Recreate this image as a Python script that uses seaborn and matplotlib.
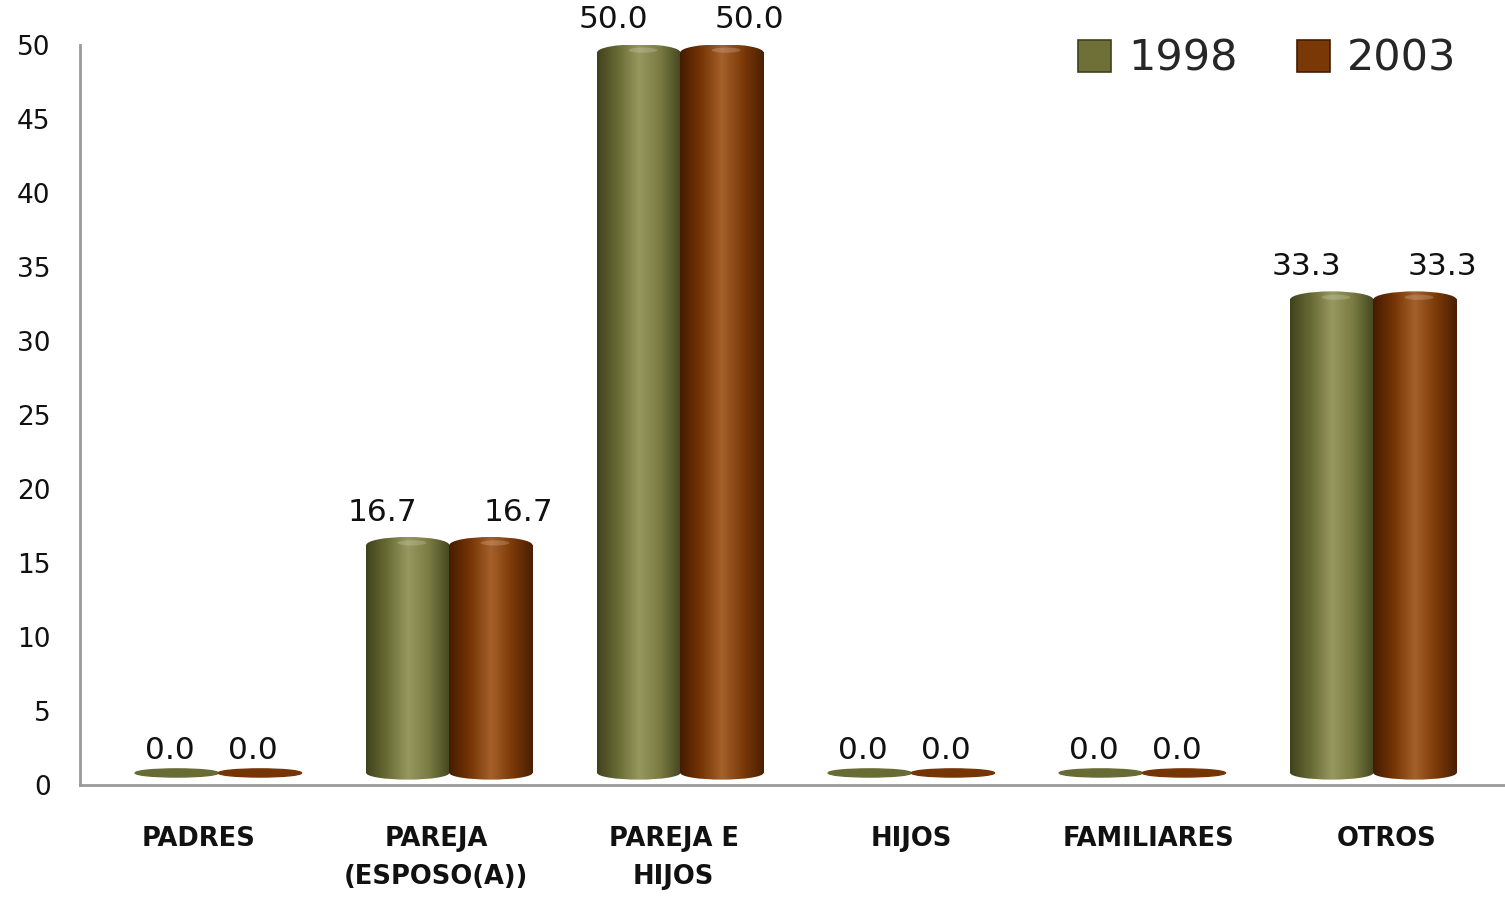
import numpy as np
import pandas as pd
import matplotlib
matplotlib.use("Agg")
import matplotlib.pyplot as plt
import seaborn as sns
from matplotlib.patches import Ellipse, Rectangle
from matplotlib.colors import LinearSegmentedColormap

categories = ["PADRES", "PAREJA\n(ESPOSO(A))", "PAREJA E\nHIJOS", "HIJOS", "FAMILIARES", "OTROS"]
years = ["1998", "2003"]
values_1998 = [0.0, 16.7, 50.0, 0.0, 0.0, 33.3]
values_2003 = [0.0, 16.7, 50.0, 0.0, 0.0, 33.3]
yticks = list(range(0, 55, 5))

df = pd.DataFrame({
    "cat": categories * 2,
    "year": [years[0]] * len(categories) + [years[1]] * len(categories),
    "val": values_1998 + values_2003,
})

sns.set_theme(style="white")
plt.rcParams['font.family'] = ['DejaVu Sans']

colors = {"1998": "#6e7038", "2003": "#7a3806"}
grads = {
    "1998": ["#40421c", "#696b35", "#979860", "#7a7c43", "#45471f"],
    "2003": ["#451c02", "#763505", "#a5602a", "#7c3a08", "#4a1f03"],
}

fig = plt.figure(figsize=(15.05, 9), dpi=100)
ax = fig.add_axes([0.053, 0.128, 0.947, 0.822])
sns.barplot(data=df, x="cat", y="val", hue="year", palette=colors,
            width=0.72, ax=ax, saturation=1, legend=True)

ax.set_ylim(0, 50)
ax.set_yticks(yticks)
ax.set_xlabel("")
ax.set_ylabel("")
ax.tick_params(axis="y", labelsize=19, length=0, pad=21, labelcolor="#111111")
ax.tick_params(axis="x", length=0, labelbottom=False)
for s in ["top", "right"]:
    ax.spines[s].set_visible(False)
for s in ["left", "bottom"]:
    ax.spines[s].set_color("#9a9a9a")
    ax.spines[s].set_linewidth(2)

# category labels on an evenly spaced companion axis (labels sit slightly
# apart from the perspective-shifted bars, as in the reference)
ax2 = ax.twiny()
ax2.set_xlim(-0.5, 5.5)
ax2.set_xticks(range(len(categories)))
ax2.set_xticklabels(categories)
ax2.xaxis.set_ticks_position("bottom")
ax2.tick_params(axis="x", labelsize=18.5, length=0, pad=30, labelcolor="#111111",
                labelbottom=True, labeltop=False)
for s in ax2.spines.values():
    s.set_visible(False)
for t in ax2.get_xticklabels():
    t.set_fontweight("bold")
    t.set_linespacing(1.6)

base = 0.8
grad = np.linspace(0, 1, 256).reshape(1, -1)
for ci, (cont, yr) in enumerate(zip(ax.containers, years)):
    cmap = LinearSegmentedColormap.from_list(yr, grads[yr])
    for p in cont.patches:
        x0, w, h = p.get_x(), p.get_width(), p.get_height()
        cx = x0 + w / 2
        p.set_facecolor("none")
        p.set_edgecolor("none")
        if h > 0:
            top = h - 0.5
            shapes = [
                Rectangle((x0, base), w, top - base, transform=ax.transData),
                Ellipse((cx, top), w, 1.1, transform=ax.transData),
                Ellipse((cx, base), w, 0.9, transform=ax.transData),
            ]
            for sh in shapes:
                im = ax.imshow(grad, aspect="auto", cmap=cmap,
                               extent=[x0, x0 + w, 0.0, h + 0.5], zorder=3)
                im.set_clip_path(sh)
            ax.add_patch(Ellipse((cx + w * 0.05, top + 0.15), w * 0.35, 0.35,
                                 color="white", alpha=0.18, lw=0, zorder=4))
        else:
            ax.add_patch(Ellipse((cx, base), w, 0.55, color=grads[yr][1], zorder=4))
    labels = [f"{v:.1f}" for v in cont.datavalues]
    texts = ax.bar_label(cont, labels=labels, padding=8, fontsize=22.5, color="#111111")
    side = -18 if ci == 0 else 20
    for t, v in zip(texts, cont.datavalues):
        if v == 0:
            t.xyann = (-5, 14)
        else:
            t.xyann = (side, 8)

ax.set_xlim(-0.6, 5.57)
ax.set_ylim(0, 50)

leg = ax.legend(loc="upper right", bbox_to_anchor=(0.993, 1.062), ncol=2, frameon=False,
                fontsize=31, handlelength=0.75, handleheight=0.75, columnspacing=1.39,
                handletextpad=0.4)
for h, yr in zip(leg.legend_handles, years):
    h.set_edgecolor(grads[yr][0])
    h.set_linewidth(1.2)

fig.savefig("out.png", dpi=100, facecolor="white")
